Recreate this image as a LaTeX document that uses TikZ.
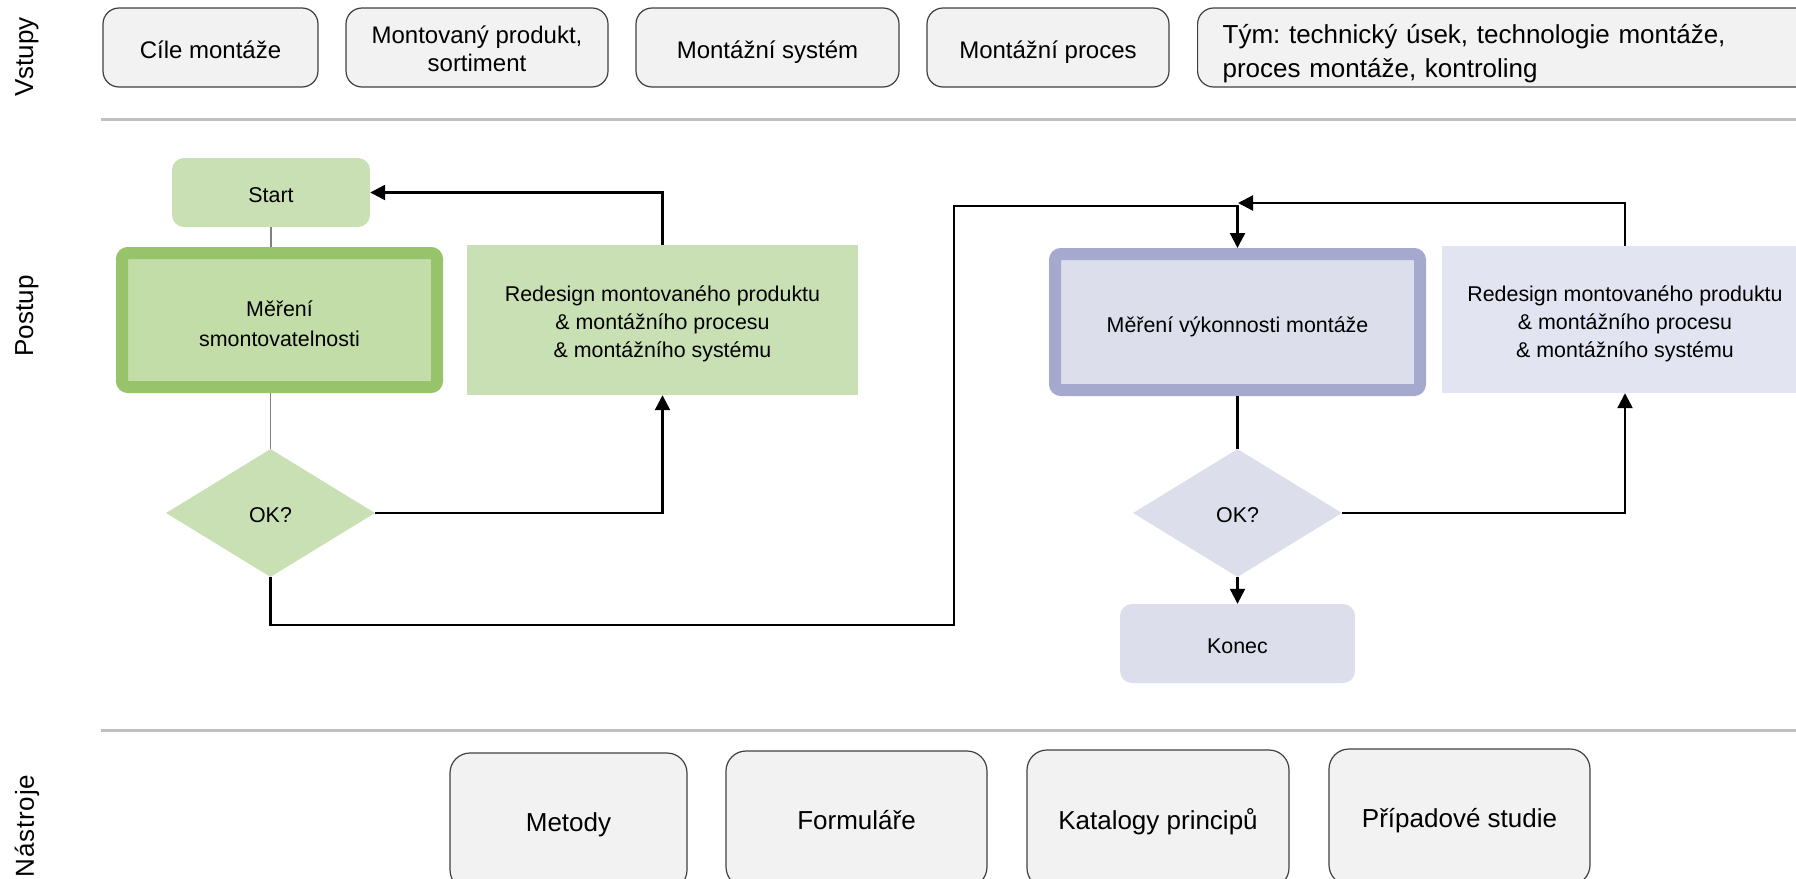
\documentclass[tikz,border=0pt]{standalone}
\usepackage{fontspec}
\setmainfont{Liberation Sans}
\usetikzlibrary{shapes.geometric,arrows.meta}
\definecolor{boxgray}{HTML}{F2F2F2}
\definecolor{boxline}{HTML}{404040}
\definecolor{gfill}{HTML}{C9E0B4}
\definecolor{gborder}{HTML}{97C46A}
\definecolor{ginner}{HTML}{C2DDA8}
\definecolor{pborder}{HTML}{A5A9CD}
\definecolor{pfill}{HTML}{DCDEEB}
\definecolor{pfill2}{HTML}{E3E4F1}
\definecolor{sepgray}{HTML}{BFBFBF}
\frenchspacing
\begin{document}
\begin{tikzpicture}[x=1pt,y=-1pt,
  topbox/.style={draw=boxline, line width=1.2pt, fill=boxgray, rounded corners=16pt,
    minimum height=79pt, align=center, inner sep=4pt, font=\fontsize{24}{28}\selectfont,
    text height=24pt, text depth=2pt},
  toolbox/.style={draw=boxline, line width=1.2pt, fill=boxgray, rounded corners=20pt,
    align=center, font=\fontsize{26}{30}\selectfont, text height=20pt, text depth=0pt},
  sidelabel/.style={rotate=90, font=\fontsize{26}{30}\selectfont},
  sep/.style={draw=sepgray, line width=3pt},
  flowtext/.style={align=center, font=\fontsize{21.4}{28}\selectfont, text height=20pt, text depth=0pt},
  gterm/.style={flowtext, fill=gfill, rounded corners=12pt},
  gthick/.style={flowtext, draw=gborder, fill=ginner, line width=12pt, rounded corners=6pt},
  gplain/.style={flowtext, fill=gfill},
  gdec/.style={flowtext, diamond, fill=gfill, inner sep=0pt, text height=18pt},
  pterm/.style={flowtext, fill=pfill, rounded corners=12pt},
  pthick/.style={flowtext, draw=pborder, fill=pfill, line width=12pt, rounded corners=6pt},
  pplain/.style={flowtext, fill=pfill2},
  pdec/.style={flowtext, diamond, fill=pfill, inner sep=0pt, text height=18pt},
  threeline/.style={text height=75.4pt, text depth=0pt},
  arr/.style={draw=black, line width=2.3pt, -{Triangle[length=15pt,width=15pt]}},
  plainline/.style={draw=black, line width=2.3pt},
  thinline/.style={draw=black!50, line width=1.3pt}
]
\useasboundingbox (0,0) rectangle (1796,878);

% side labels
\node[sidelabel] (lvst) at (27,57) {Vstupy};
\node[sidelabel] (lpos) at (27,316) {Postup};
\node[sidelabel] (lnas) at (27,826) {\addfontfeature{LetterSpace=3}Nástroje};

% separators
\coordinate (s1a) at (101,119.5);
\coordinate (s1b) at (1796,119.5);
\coordinate (s2a) at (101,730);
\coordinate (s2b) at (1796,730);
\draw[sep] (s1a) -- (s1b);
\draw[sep] (s2a) -- (s2b);

% inputs
\node[topbox, minimum width=215pt] (in1) at (210.5,47.5) {Cíle montáže};
\node[topbox, minimum width=262pt, text height=47.8pt, text depth=0pt] (in2) at (477,47.5) {Montovaný produkt,\\sortiment};
\node[topbox, minimum width=263pt] (in3) at (767.5,47.5) {Montážní systém};
\node[topbox, minimum width=242pt] (in4) at (1048,47.5) {Montážní proces};
\node[topbox, anchor=west, inner xsep=25pt, text width=583pt, align=left,
  font=\fontsize{26}{34}\selectfont, text height=19pt, text depth=28pt] (in5) at (1197,47.5)
  {Tým: technický úsek, technologie montáže,\\proces montáže, kontroling};

% green part
\node[gterm, minimum width=198pt, minimum height=69pt] (start) at (271,192.5) {Start};
\node[gthick, minimum width=315pt, minimum height=134pt, font=\fontsize{21.4}{30}\selectfont,
  text height=53pt, text depth=0pt] (m1) at (279.5,320) {Měření\\smontovatelnosti};
\node[gplain, threeline, minimum width=391pt, minimum height=150pt] (r1) at (662.5,320)
  {Redesign montovaného produktu\\\& montážního procesu\\\& montážního systému};
\node[gdec, minimum width=209pt, minimum height=128pt] (ok1) at (270.5,513) {OK?};

% purple part
\node[pthick, minimum width=365pt, minimum height=136pt] (m2) at (1237.5,322) {Měření výkonnosti montáže};
\node[pplain, threeline, minimum width=366pt, minimum height=147pt] (r2) at (1625,319.5)
  {Redesign montovaného produktu\\\& montážního procesu\\\& montážního systému};
\node[pdec, minimum width=209pt, minimum height=128pt] (ok2) at (1237.5,513) {OK?};
\node[pterm, minimum width=235pt, minimum height=79pt] (konec) at (1237.5,643.5) {Konec};

% connectors
\draw[thinline] (start.south) -- (start.south |- m1.north);
\draw[thinline] (ok1.north |- m1.south) -- (ok1.north);
\draw[arr] (r1.north) |- (start.east);
\draw[arr] (ok1.east) -| (r1.south);
\coordinate (c1) at (954,625);
\coordinate (c2) at (954,206);
\coordinate (merge) at (1238,203);
\draw[arr] (ok1.south) |- (c1) -- (c2) -| (m2.north);
\draw[arr] (r2.north) |- (merge);
\draw[plainline] (m2.south) -- (ok2.north);
\draw[arr] (ok2.south) -- (konec.north);
\draw[arr] (ok2.east) -| (r2.south);

% tools
\node[toolbox, minimum width=237pt, minimum height=137pt] (t1) at (568.5,821.5) {Metody};
\node[toolbox, minimum width=261pt, minimum height=136pt] (t2) at (856.5,819) {Formuláře};
\node[toolbox, minimum width=262pt, minimum height=138pt] (t3) at (1158,819) {Katalogy principů};
\node[toolbox, minimum width=261pt, minimum height=136pt] (t4) at (1459.5,817) {Případové studie};
\end{tikzpicture}
\end{document}
